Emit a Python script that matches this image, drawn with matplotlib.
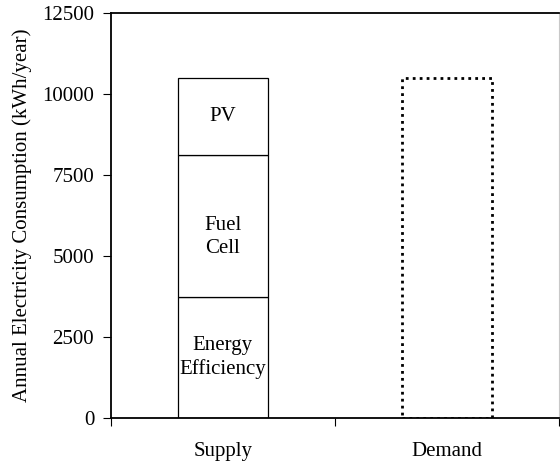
import matplotlib
matplotlib.use('Agg')
import matplotlib.pyplot as plt

plt.rcParams['font.family'] = ['Liberation Serif', 'DejaVu Serif']

categories = ['Supply', 'Demand']
supply_parts = ['Energy\nEfficiency', 'Fuel\nCell', 'PV']
supply_values = [3750, 4375, 2375]
demand_value = 10500
yticks = [0, 2500, 5000, 7500, 10000, 12500]

fs = 15

fig = plt.figure(figsize=(5.6, 4.62), dpi=100)
ax = fig.add_axes([0.198, 0.0952, 0.800, 0.8767])

# stacked supply bar
bottom = 0
for name, val in zip(supply_parts, supply_values):
    ax.bar(0, val, width=0.4, bottom=bottom, color='white', edgecolor='black', linewidth=0.9)
    # the fuel cell label sits a bit below the middle in the original
    frac = 0.42 if name.startswith('Fuel') else 0.5
    ax.text(0, bottom + val * frac, name, ha='center', va='center', fontsize=fs, linespacing=1.3)
    bottom += val

# demand bar, dotted outline
ax.bar(1, demand_value, width=0.4, color='white', edgecolor='black', linewidth=2,
       linestyle=(0, (1, 1.5)))

ax.set_xlim(-0.5, 1.5)
ax.set_ylim(0, 12500)
ax.set_yticks(yticks)
ax.set_yticklabels([str(v) for v in yticks], fontsize=fs)
ax.set_xticks([-0.5, 0.5, 1.5])
ax.set_xticklabels([])
ax.set_xticks([0, 1], minor=True)
ax.set_xticklabels(categories, minor=True, fontsize=fs)
ax.tick_params(axis='x', which='minor', length=0, pad=17.5)
ax.tick_params(axis='x', which='major', length=6, direction='out')
ax.tick_params(axis='y', length=6, direction='out', pad=6)
ax.set_ylabel('Annual Electricity Consumption (kWh/year)', fontsize=fs, labelpad=7)

for s in ['left', 'bottom', 'top']:
    ax.spines[s].set_linewidth(1.3)
ax.spines['right'].set_color('#c8c8c8')

fig.savefig('out.png', dpi=100)
